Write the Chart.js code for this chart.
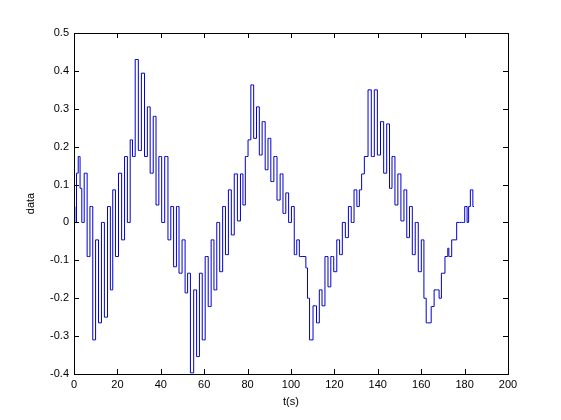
<!DOCTYPE html>
<html>
<head>
<meta charset="utf-8">
<script src="https://cdn.jsdelivr.net/npm/chart.js@4"></script>
<style>
  html, body { margin: 0; padding: 0; background: #ffffff; }
  #wrap { width: 561px; height: 420px; }
</style>
</head>
<body>
<div id="wrap"><canvas id="plot" width="561" height="420"></canvas></div>
<script>
// time stamps (s) of the turning points
const tValues = [
    0, 0.8, 1.5, 2.4, 3.2, 4.0, 5.4, 6.7, 8.0, 9.3,
    10.6, 12.0, 13.3, 14.7, 16.2, 17.3, 18.4, 19.8, 21.2, 22.7,
    23.9, 25.3, 26.5, 27.4, 29.0, 30.3, 31.8, 33.2, 34.4, 35.8,
    37.2, 38.4, 39.8, 41.0, 42.6, 44.0, 45.2, 46.6, 47.8, 49.0,
    50.6, 51.8, 52.9, 54.4, 55.9, 57.1, 58.5, 59.7, 61.2, 62.5,
    63.9, 65.1, 66.5, 67.8, 69.2, 70.4, 71.9, 73.1, 74.6, 76.0,
    77.4, 78.3, 79.6, 80.8, 82.2, 83.4, 84.8, 86.0, 87.4, 88.8,
    90.0, 91.4, 92.8, 94.3, 95.7, 96.9, 98.3, 99.5, 100.9, 102.1,
    103.2, 104.5, 106.5, 107.2, 108.0, 109.1, 111.2, 112.3, 113.8, 114.8,
    116.5, 117.6, 119.1, 120.3, 121.9, 122.9, 124.4, 125.7, 127.2, 128.3,
    129.8, 130.9, 132.1, 133.0, 134.6, 136.4, 137.6, 139.2, 140.4, 142.1,
    143.3, 144.9, 145.9, 147.2, 148.6, 149.9, 151.4, 152.7, 154.0, 155.2,
    156.6, 157.9, 159.4, 160.7, 161.8, 162.8, 164.4, 164.8, 167.1, 167.8,
    168.7, 169.9, 172.0, 172.5, 173.0, 175.1, 177.6, 179.5, 180.6, 181.7,
    182.0, 183.3, 184.3
];

// measured data values at those times
const dataValues = [
    0.042, 0.0, 0.13, 0.174, 0.09, 0.0, 0.13, -0.09, 0.042, -0.31,
    -0.046, -0.265, 0.0, -0.25, 0.042, -0.178, 0.086, -0.09, 0.13, -0.046,
    0.174, 0.0, 0.218, 0.174, 0.43, 0.19, 0.394, 0.174, 0.305, 0.13,
    0.28, 0.046, 0.174, 0.0, 0.174, -0.046, 0.042, -0.117, 0.042, -0.134,
    -0.046, -0.186, -0.134, -0.397, -0.178, -0.354, -0.134, -0.31, -0.09, -0.222,
    -0.046, -0.178, 0.0, -0.13, 0.042, -0.085, 0.086, -0.033, 0.128, 0.004,
    0.128, 0.046, 0.174, 0.218, 0.363, 0.222, 0.305, 0.178, 0.266, 0.139,
    0.222, 0.108, 0.174, 0.059, 0.128, 0.024, 0.078, 0.0, 0.042, -0.085,
    -0.046, -0.09, -0.09, -0.12, -0.2, -0.31, -0.22, -0.265, -0.178, -0.22,
    -0.09, -0.17, -0.09, -0.13, -0.046, -0.085, 0.0, -0.04, 0.042, 0.0,
    0.086, 0.042, 0.086, 0.128, 0.174, 0.35, 0.174, 0.35, 0.178, 0.266,
    0.13, 0.26, 0.09, 0.174, 0.046, 0.128, 0.004, 0.086, -0.04, 0.042,
    -0.085, 0.0, -0.13, -0.046, -0.2, -0.265, -0.265, -0.222, -0.178, -0.178,
    -0.2, -0.134, -0.09, -0.068, -0.09, -0.046, 0.0, 0.0, 0.042, 0.0,
    0.042, 0.086, 0.042
];

const xTicks = [0, 20, 40, 60, 80, 100, 120, 140, 160, 180, 200];
const yTicks = [-0.4, -0.3, -0.2, -0.1, 0, 0.1, 0.2, 0.3, 0.4, 0.5];

const points = tValues.map((t, i) => ({ x: t, y: dataValues[i] }));

const FONT = { family: "'Liberation Sans', Arial, sans-serif", size: 11 };

// box around the axes plus inward tick marks on all four sides
const matlabBox = {
    id: "matlabBox",
    afterDraw(chart) {
        const { ctx, chartArea: a, scales } = chart;
        const len = 5;
        ctx.save();
        ctx.strokeStyle = "#000000";
        ctx.lineWidth = 1;
        ctx.beginPath();
        xTicks.forEach((v) => {
            const px = Math.round(scales.x.getPixelForValue(v)) + 0.5;
            ctx.moveTo(px, a.bottom);
            ctx.lineTo(px, a.bottom - len);
            ctx.moveTo(px, a.top);
            ctx.lineTo(px, a.top + len);
        });
        yTicks.forEach((v) => {
            const py = Math.round(scales.y.getPixelForValue(v)) + 0.5;
            ctx.moveTo(a.left, py);
            ctx.lineTo(a.left + len, py);
            ctx.moveTo(a.right, py);
            ctx.lineTo(a.right - len, py);
        });
        ctx.stroke();
        ctx.strokeRect(
            Math.round(a.left) + 0.5,
            Math.round(a.top) + 0.5,
            Math.round(a.right - a.left),
            Math.round(a.bottom - a.top)
        );
        ctx.restore();
    },
};

new Chart(document.getElementById("plot"), {
    type: "scatter",
    data: {
        datasets: [
            {
                label: "data",
                data: points,
                showLine: true,
                stepped: "middle",
                borderColor: "#0000cc",
                borderWidth: 1,
                pointRadius: 0,
            },
        ],
    },
    options: {
        responsive: false,
        animation: false,
        layout: { padding: { top: 33, right: 53, left: 0, bottom: 0 } },
        plugins: {
            legend: { display: false },
            tooltip: { enabled: false },
        },
        scales: {
            x: {
                type: "linear",
                min: 0,
                max: 200,
                afterFit: (scale) => { scale.height = 46; },
                afterBuildTicks: (scale) => { scale.ticks = xTicks.map((v) => ({ value: v })); },
                grid: { display: false, drawTicks: false },
                border: { display: false },
                ticks: { color: "#000", font: FONT, padding: 4, maxRotation: 0 },
                title: {
                    display: true,
                    text: "t(s)",
                    color: "#000",
                    font: FONT,
                    padding: { top: 0, bottom: 11 },
                },
            },
            y: {
                type: "linear",
                min: -0.4,
                max: 0.5,
                afterFit: (scale) => { scale.width = 74; },
                afterBuildTicks: (scale) => { scale.ticks = yTicks.map((v) => ({ value: v })); },
                grid: { display: false, drawTicks: false },
                border: { display: false },
                ticks: {
                    color: "#000",
                    font: FONT,
                    padding: 5,
                    callback: (v) => (Math.round(v * 10) / 10).toString(),
                },
                title: {
                    display: true,
                    text: "data",
                    color: "#000",
                    font: FONT,
                    padding: { top: 24, bottom: 0 },
                },
            },
        },
    },
    plugins: [matlabBox],
});
</script>
</body>
</html>
